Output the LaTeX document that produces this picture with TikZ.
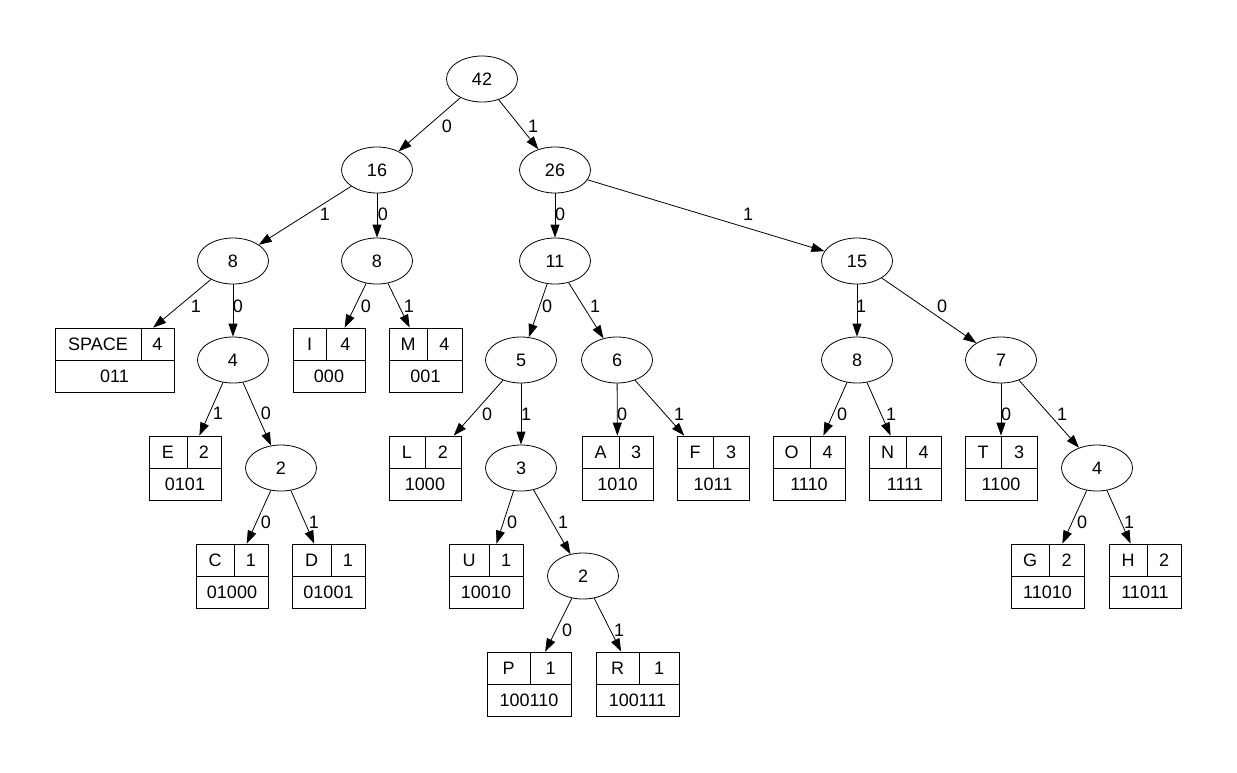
\documentclass[tikz,border=0pt]{standalone}
\usepackage{fontspec}
\setmainfont{Liberation Sans}
\usetikzlibrary{arrows.meta,shapes.geometric}
\newcommand{\leafnode}[8]{%
  \node[leafbox, minimum width=#4] (#1) at (#2,#3) {};
  \draw[thin line] (#1.west) -- (#1.east);
  \draw[thin line] (#5,#3) -- (#5,{#3-32});
  \node[txt] at ({(#2-#4/2+#5)/2},{#3-16}) {#6};
  \node[txt] at ({(#2+#4/2+#5)/2},{#3-16}) {#7};
  \node[txt] at (#2,{#3+16}) {#8};
}
\begin{document}
\begin{tikzpicture}[x=1pt,y=-1pt,
  thin line/.style={line width=0.8pt},
  txt/.style={inner sep=0pt, font=\fontsize{18}{20}\selectfont},
  sumnode/.style={draw, thin line, ellipse, minimum width=71pt, minimum height=46pt, inner sep=0pt, font=\fontsize{18}{20}\selectfont},
  leafbox/.style={draw, thin line, rectangle, minimum height=64pt, inner sep=0pt},
  edge/.style={thin line, -{Triangle[length=13pt,width=9pt]}},
  lbl/.style={txt}]
\useasboundingbox (0,0) rectangle (1237,772);
\node[sumnode] (r42) at (482,79) {42};
\node[sumnode] (n16) at (377,170) {16};
\node[sumnode] (n26) at (555,170) {26};
\node[sumnode] (n8a) at (233,261) {8};
\node[sumnode] (n8b) at (377,261) {8};
\node[sumnode] (n11) at (555,261) {11};
\node[sumnode] (n15) at (857,261) {15};
\node[sumnode] (n4a) at (233,360) {4};
\node[sumnode] (n5) at (521,360) {5};
\node[sumnode] (n6) at (617,360) {6};
\node[sumnode] (n8c) at (857,360) {8};
\node[sumnode] (n7) at (1001,360) {7};
\node[sumnode] (n2a) at (281,468) {2};
\node[sumnode] (n3) at (521,468) {3};
\node[sumnode] (n4b) at (1097,468) {4};
\node[sumnode] (n2b) at (583,576) {2};
\leafnode{lSpace}{114.5}{360}{119}{141}{SPACE}{4}{011}
\leafnode{lI}{329}{360}{72}{326}{I}{4}{000}
\leafnode{lM}{425.5}{360}{73}{427}{M}{4}{001}
\leafnode{lE}{185}{468}{72}{187}{E}{2}{0101}
\leafnode{lL}{425}{468}{72}{425}{L}{2}{1000}
\leafnode{lA}{617.5}{468}{71}{619}{A}{3}{1010}
\leafnode{lF}{713}{468}{72}{713}{F}{3}{1011}
\leafnode{lO}{809}{468}{72}{810}{O}{4}{1110}
\leafnode{lN}{905}{468}{72}{906}{N}{4}{1111}
\leafnode{lT}{1001}{468}{72}{1001}{T}{3}{1100}
\leafnode{lC}{232}{576}{72}{234}{C}{1}{01000}
\leafnode{lD}{328.5}{576}{73}{331}{D}{1}{01001}
\leafnode{lU}{486}{576}{74}{489}{U}{1}{10010}
\leafnode{lG}{1047.5}{576}{73}{1049}{G}{2}{11010}
\leafnode{lH}{1145}{576}{72}{1147}{H}{2}{11011}
\leafnode{lP}{529}{684}{84}{530}{P}{1}{100110}
\leafnode{lR}{637.5}{684}{83}{639}{R}{1}{100111}
\draw[edge] (r42) -- (n16) node[lbl] at (447,126) {0};
\draw[edge] (r42) -- (n26) node[lbl] at (533,126) {1};
\draw[edge] (n16) -- (n8a) node[lbl] at (325,214) {1};
\draw[edge] (n16) -- (n8b) node[lbl] at (383,214) {0};
\draw[edge] (n26) -- (n11) node[lbl] at (560,214) {0};
\draw[edge] (n26) -- (n15) node[lbl] at (748,214) {1};
\draw[edge] (n8a) -- (lSpace) node[lbl] at (196,306) {1};
\draw[edge] (n8a) -- (n4a) node[lbl] at (238,306) {0};
\draw[edge] (n8b) -- (lI) node[lbl] at (366,306) {0};
\draw[edge] (n8b) -- (lM) node[lbl] at (409,306) {1};
\draw[edge] (n11) -- (n5) node[lbl] at (547,306) {0};
\draw[edge] (n11) -- (n6) node[lbl] at (595,306) {1};
\draw[edge] (n15) -- (n8c) node[lbl] at (861,306) {1};
\draw[edge] (n15) -- (n7) node[lbl] at (942,306) {0};
\draw[edge] (n4a) -- (lE) node[lbl] at (218,413) {1};
\draw[edge] (n4a) -- (n2a) node[lbl] at (266,413) {0};
\draw[edge] (n5) -- (lL) node[lbl] at (487,414) {0};
\draw[edge] (n5) -- (n3) node[lbl] at (526,414) {1};
\draw[edge] (n6) -- (lA) node[lbl] at (622,414) {0};
\draw[edge] (n6) -- (lF) node[lbl] at (679,414) {1};
\draw[edge] (n8c) -- (lO) node[lbl] at (842,414) {0};
\draw[edge] (n8c) -- (lN) node[lbl] at (891,414) {1};
\draw[edge] (n7) -- (lT) node[lbl] at (1006,414) {0};
\draw[edge] (n7) -- (n4b) node[lbl] at (1062,414) {1};
\draw[edge] (n2a) -- (lC) node[lbl] at (266,522) {0};
\draw[edge] (n2a) -- (lD) node[lbl] at (314,522) {1};
\draw[edge] (n3) -- (lU) node[lbl] at (512,522) {0};
\draw[edge] (n3) -- (n2b) node[lbl] at (563,522) {1};
\draw[edge] (n4b) -- (lG) node[lbl] at (1082,522) {0};
\draw[edge] (n4b) -- (lH) node[lbl] at (1129,522) {1};
\draw[edge] (n2b) -- (lP) node[lbl] at (567,630) {0};
\draw[edge] (n2b) -- (lR) node[lbl] at (619,630) {1};
\end{tikzpicture}
\end{document}
